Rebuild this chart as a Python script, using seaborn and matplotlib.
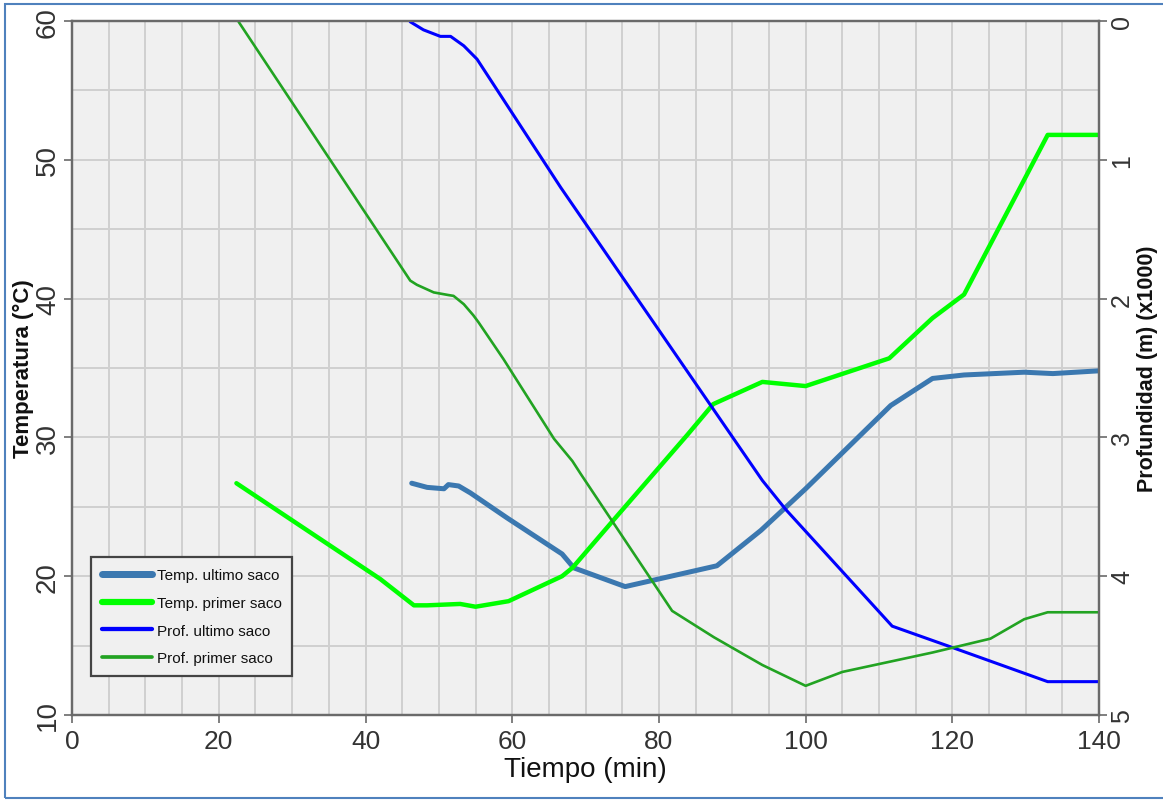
import pandas as pd
import matplotlib.pyplot as plt
import seaborn as sns
from matplotlib import font_manager
from matplotlib.patches import Rectangle
from matplotlib.ticker import MultipleLocator

# Data
# Temperatura ultimo saco (°C)
t_temp_ult = [46.3, 48.4, 50.7, 51.3, 52.7, 54.3, 59.3, 66.8, 68.4, 75.4, 87.9, 93.9, 100.0,
              111.6, 117.3, 121.6, 129.8, 133.7, 140.0]
temp_ult = [26.7, 26.4, 26.3, 26.6, 26.5, 26.0, 24.2, 21.6, 20.6, 19.25, 20.75, 23.3, 26.3,
            32.3, 34.25, 34.5, 34.7, 34.6, 34.8]

# Temperatura primer saco (°C)
t_temp_pri = [22.4, 42.0, 46.6, 48.4, 52.9, 55.0, 59.5, 66.8, 68.2, 73.9, 83.9, 87.4, 94.1,
              100.0, 111.4, 117.3, 121.6, 133.0, 140.0]
temp_pri = [26.7, 19.8, 17.9, 17.9, 18.0, 17.8, 18.2, 20.0, 20.6, 24.1, 30.2, 32.4, 34.0,
            33.7, 35.7, 38.6, 40.3, 51.8, 51.8]

# Profundidad ultimo saco (m x1000)
t_prof_ult = [46.1, 47.9, 50.2, 51.6, 53.4, 55.2, 66.6, 94.1, 97.3, 111.8, 119.8, 133.0, 140.0]
prof_ult = [0.005, 0.063, 0.11, 0.11, 0.178, 0.274, 1.198, 3.31, 3.52, 4.36, 4.51, 4.76, 4.76]

# Profundidad primer saco (m x1000)
t_prof_pri = [22.7, 46.1, 47.0, 49.3, 51.3, 52.0, 53.4, 54.7, 55.4, 58.8, 65.7, 68.2, 69.3,
              81.8, 87.5, 94.1, 100.0, 105.0, 117.3, 125.2, 129.8, 133.0, 140.0]
prof_pri = [0.005, 1.87, 1.90, 1.955, 1.974, 1.98, 2.04, 2.12, 2.17, 2.435, 3.01, 3.17, 3.26,
            4.25, 4.44, 4.64, 4.79, 4.69, 4.55, 4.45, 4.31, 4.26, 4.26]

x_ticks = [0, 20, 40, 60, 80, 100, 120, 140]
temp_ticks = [10, 20, 30, 40, 50, 60]
prof_ticks = [0, 1, 2, 3, 4, 5]

df_tu = pd.DataFrame({'t': t_temp_ult, 'v': temp_ult})
df_tp = pd.DataFrame({'t': t_temp_pri, 'v': temp_pri})
df_pu = pd.DataFrame({'t': t_prof_ult, 'v': prof_ult})
df_pp = pd.DataFrame({'t': t_prof_pri, 'v': prof_pri})

sns.set_style('whitegrid', {'axes.facecolor': '#f0f0f0', 'grid.color': '#d3d3d3',
                            'axes.edgecolor': '#6a6a6a'})
plt.rcParams['font.family'] = ['Liberation Sans', 'DejaVu Sans']

names = {f.name for f in font_manager.fontManager.ttflist}
if 'Liberation Sans Narrow' in names:
    xlab_font, xlab_size = ['Liberation Sans Narrow', 'Liberation Sans'], 24
else:
    xlab_font, xlab_size = ['Liberation Sans', 'DejaVu Sans'], 20

fig = plt.figure(figsize=(11.63, 8.04), dpi=100)
ax = fig.add_axes([0.062, 0.1095, 0.883, 0.863])
ax2 = ax.twinx()

sns.lineplot(data=df_tu, x='t', y='v', ax=ax, color='#3b78b0', linewidth=3.6,
             estimator=None, label='Temp. ultimo saco')
sns.lineplot(data=df_tp, x='t', y='v', ax=ax, color='#00ff00', linewidth=3.2,
             estimator=None, label='Temp. primer saco')
sns.lineplot(data=df_pu, x='t', y='v', ax=ax2, color='#0000ff', linewidth=2.2,
             estimator=None, label='Prof. ultimo saco')
sns.lineplot(data=df_pp, x='t', y='v', ax=ax2, color='#22a322', linewidth=1.9,
             estimator=None, label='Prof. primer saco')

h1, l1 = ax.get_legend_handles_labels()
h2, l2 = ax2.get_legend_handles_labels()
for a in (ax, ax2):
    if a.get_legend() is not None:
        a.get_legend().remove()

# axes limits and ticks
ax.set_xlim(0, 140)
ax.set_ylim(10, 60)
ax2.set_ylim(5, 0)
ax.set_xticks(x_ticks)
ax.set_yticks(temp_ticks)
ax2.set_yticks(prof_ticks)
ax.xaxis.set_minor_locator(MultipleLocator(5))
ax.yaxis.set_minor_locator(MultipleLocator(5))
ax.grid(True, which='both', color='#d0d0d0', linewidth=1.4)
ax2.grid(False)

ax.tick_params(axis='x', which='major', labelsize=19, labelcolor='#333333', length=6,
               width=1.2, color='#6a6a6a', direction='out', bottom=True, pad=4)
ax.tick_params(axis='y', which='major', labelsize=20, labelcolor='#333333', length=6,
               width=1.2, color='#6a6a6a', direction='out', left=True, labelrotation=90, pad=2)
ax.tick_params(which='minor', length=0)
ax2.tick_params(axis='y', labelsize=18, labelcolor='#333333', length=6, width=1.2,
                color='#6a6a6a', direction='out', right=True, labelrotation=90, pad=2)
for lab in ax.get_yticklabels() + ax2.get_yticklabels():
    lab.set_verticalalignment('center')

for a in (ax, ax2):
    for s in a.spines.values():
        s.set_color('#6a6a6a')
        s.set_linewidth(1.6)

ax.set_xlabel('Tiempo (min)', fontsize=xlab_size, family=xlab_font, color='#111111', labelpad=2)
ax.set_ylabel('Temperatura (°C)', fontsize=16, fontweight='bold', color='#111111', labelpad=1)
ax2.set_ylabel('Profundidad (m) (x1000)', fontsize=15.5, fontweight='bold', color='#111111',
               labelpad=2)

leg = ax2.legend(h1 + h2, l1 + l2, loc='lower left', bbox_to_anchor=(0.0185, 0.056),
                 borderaxespad=0, fontsize=11, frameon=True, fancybox=False,
                 framealpha=1, edgecolor='#444444', handlelength=3.3, handletextpad=0.3,
                 labelspacing=0.9, borderpad=0.7)
leg.get_frame().set_linewidth(1.6)
for text in leg.get_texts():
    text.set_color('#111111')
for line in leg.get_lines():
    line.set_solid_capstyle('round')
    line.set_linewidth(line.get_linewidth() * 1.4)

# thin blue frame around the picture
fig.patches.append(Rectangle((5 / 1163, 5 / 804), 1.0, 1 - 10 / 804, transform=fig.transFigure,
                             fill=False, edgecolor='#4f81bd', linewidth=1.5))

fig.savefig('out.png', dpi=100)
